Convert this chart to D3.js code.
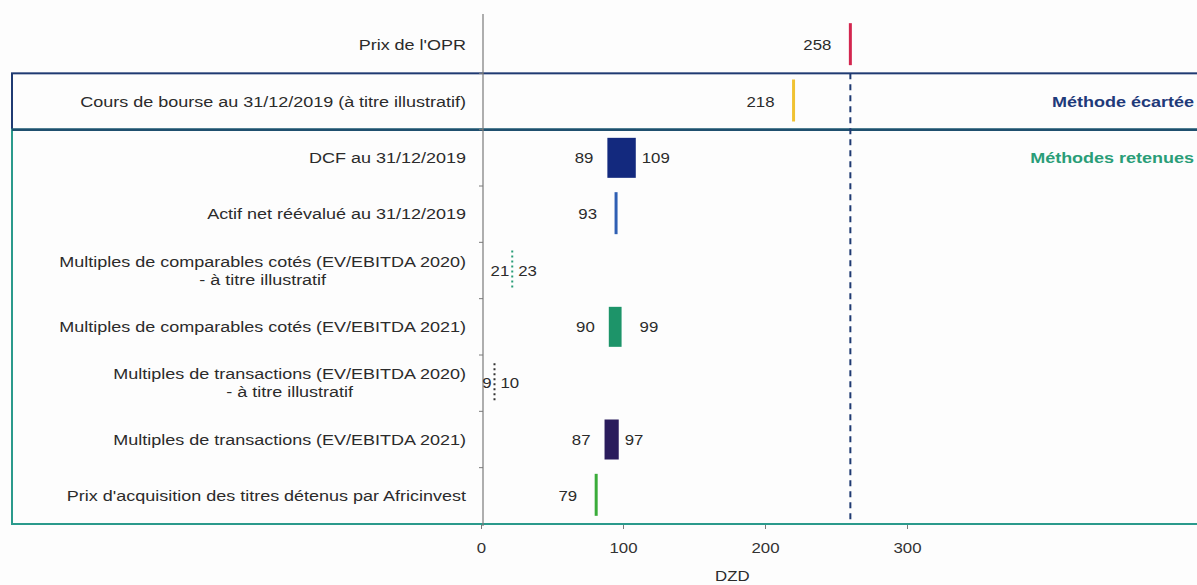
<!DOCTYPE html>
<html>
<head>
<meta charset="utf-8">
<script src="https://cdn.jsdelivr.net/npm/d3@7"></script>
<style>
  body { margin: 0; background: #fdfdfd; }
  text { font-family: "Liberation Sans", Arial, sans-serif; fill: #2b2b2b; }
</style>
</head>
<body>
<div id="chart"></div>
<script>
(() => {
  const width = 1197;
  const height = 585;

  // data
  const categories = [
    "Prix de l'OPR",
    "Cours de bourse au 31/12/2019 (à titre illustratif)",
    "DCF au 31/12/2019",
    "Actif net réévalué au 31/12/2019",
    "Multiples de comparables cotés (EV/EBITDA 2020)\n- à titre illustratif",
    "Multiples de comparables cotés (EV/EBITDA 2021)",
    "Multiples de transactions (EV/EBITDA 2020)\n- à titre illustratif",
    "Multiples de transactions (EV/EBITDA 2021)",
    "Prix d'acquisition des titres détenus par Africinvest"
  ];
  const lowValues = [258, 218, 89, 93, 21, 90, 9, 87, 79];
  const highValues = [258, 218, 109, 93, 23, 99, 10, 97, 79];
  const opr = 258;
  const xTicks = [0, 100, 200, 300];

  // styles per row
  const colors = ['#d3264f', '#f0c232', '#13297e', '#2f5fb3', '#2a9d78', '#1d9469', '#333333', '#2a1c5c', '#3aac3a'];
  const kinds = ['line', 'line', 'bar', 'line', 'dot', 'bar', 'dot', 'bar', 'line'];

  const sx = 1.2; // the source text is a bit wider than Arial

  const svg = d3.select('#chart').append('svg')
    .attr('width', width).attr('height', height);

  // text helper, stretched horizontally around its anchor
  const label = (parent, px, py, txt, anchor, size) => parent.append('text')
    .attr('transform', `translate(${px},${py}) scale(${sx},1)`)
    .attr('text-anchor', anchor || 'start')
    .attr('font-size', size || 15)
    .text(txt);

  const x = d3.scaleLinear().domain([0, 300]).range([481, 907]);
  const y = d3.scaleBand().domain(categories).range([17, 524]);
  const barH = 40;
  const rows = categories.map((c, i) => ({ c, lo: lowValues[i], hi: highValues[i], color: colors[i], kind: kinds[i] }));

  // group boxes
  svg.append('rect').attr('x', 12).attr('y', y(categories[1]))
    .attr('width', width).attr('height', y.bandwidth())
    .attr('fill', 'none').attr('stroke', '#1f3a72').attr('stroke-width', 2);
  svg.append('rect').attr('x', 12).attr('y', y(categories[2]))
    .attr('width', width).attr('height', 524 - y(categories[2]))
    .attr('fill', 'none').attr('stroke', '#2a9a8c').attr('stroke-width', 2);
  svg.append('line').attr('x1', 12).attr('x2', width)
    .attr('y1', y(categories[2])).attr('y2', y(categories[2]))
    .attr('stroke', '#1f4f6e').attr('stroke-width', 2.5);

  label(svg, 1194, y(categories[1]) + y.bandwidth() / 2 + 5, 'Méthode écartée', 'end', 15)
    .attr('font-weight', 'bold').style('fill', '#1f3a7a');
  label(svg, 1194, y(categories[2]) + y.bandwidth() / 2 + 5, 'Méthodes retenues', 'end', 15)
    .attr('font-weight', 'bold').style('fill', '#2a9d78');

  // y axis
  const yAxis = svg.append('g');
  yAxis.append('line').attr('x1', x(0) + 2).attr('x2', x(0) + 2).attr('y1', 14).attr('y2', 526)
    .attr('stroke', '#7a7a7a').attr('stroke-width', 1.2);
  yAxis.selectAll('.tk').data(categories.slice(1)).join('line')
    .attr('x1', x(0) - 2).attr('x2', x(0) + 2)
    .attr('y1', d => y(d)).attr('y2', d => y(d))
    .attr('stroke', '#7a7a7a');

  // category labels
  const labG = svg.append('g');
  rows.forEach(d => {
    const lines = d.c.split('\n');
    const cy = y(d.c) + y.bandwidth() / 2;
    if (lines.length === 1) {
      label(labG, 466, cy + 5, lines[0], 'end');
    } else {
      const t = label(labG, 466, cy + 5, '', 'end');
      t.append('tspan').attr('x', 0).attr('y', -9).text(lines[0]);
      // second line centred under the first one
      t.append('tspan').attr('x', 0).attr('y', 9).attr('text-anchor', 'middle').attr('class', 'l2').text(lines[1]);
      const w = t.select('tspan').node().getComputedTextLength();
      t.select('.l2').attr('x', -w / 2);
    }
  });

  // OPR dashed reference
  svg.append('line').attr('x1', x(opr) + 3).attr('x2', x(opr) + 3)
    .attr('y1', y(categories[1])).attr('y2', 524)
    .attr('stroke', '#1f3a72').attr('stroke-width', 2).attr('stroke-dasharray', '6,5');

  // marks
  const g = svg.append('g');
  rows.forEach(d => {
    const cy = y(d.c) + y.bandwidth() / 2;
    if (d.kind === 'bar') {
      g.append('rect').attr('x', x(d.lo)).attr('y', cy - barH / 2)
        .attr('width', x(d.hi) - x(d.lo)).attr('height', barH).attr('fill', d.color);
    } else if (d.kind === 'line') {
      g.append('line').attr('x1', x(d.lo) + 3).attr('x2', x(d.lo) + 3)
        .attr('y1', cy - barH / 2 - 2).attr('y2', cy + barH / 2)
        .attr('stroke', d.color).attr('stroke-width', 3);
    } else {
      const xm = x((d.lo + d.hi) / 2);
      g.append('line').attr('x1', xm).attr('x2', xm)
        .attr('y1', cy - barH / 2).attr('y2', cy + barH / 2)
        .attr('stroke', d.color).attr('stroke-width', 2).attr('stroke-dasharray', '2,3');
    }
  });

  // value labels
  const vl = svg.append('g');
  rows.forEach(d => {
    const cy = y(d.c) + y.bandwidth() / 2 + 5;
    if (d.kind === 'dot') {
      const xm = x((d.lo + d.hi) / 2);
      label(vl, xm - 3, cy, d.lo, 'end', 14);
      label(vl, xm + 6, cy, d.hi, 'start', 14);
    } else if (d.kind === 'bar') {
      label(vl, x(d.lo) - 14, cy, d.lo, 'end', 14);
      label(vl, x(d.hi) + (d.hi - d.lo > 9 ? 6 : 18), cy, d.hi, 'start', 14);
    } else {
      label(vl, x(d.lo) - 16, cy, d.lo, 'end', 14);
    }
  });

  // x axis
  const xAxis = svg.append('g').attr('transform', 'translate(0,525)')
    .call(d3.axisBottom(x).tickValues(xTicks).tickSize(4).tickPadding(12));
  xAxis.select('.domain').remove();
  xAxis.selectAll('.tick line').attr('stroke', '#7a7a7a');
  xAxis.selectAll('.tick text').attr('font-size', 14)
    .attr('font-family', '"Liberation Sans", Arial, sans-serif').style('fill', '#333')
    .attr('transform', `scale(${sx},1)`).attr('dy', '0.85em');
  label(svg, x(177), 581, 'DZD', 'middle', 14);
})();
</script>
</body>
</html>
